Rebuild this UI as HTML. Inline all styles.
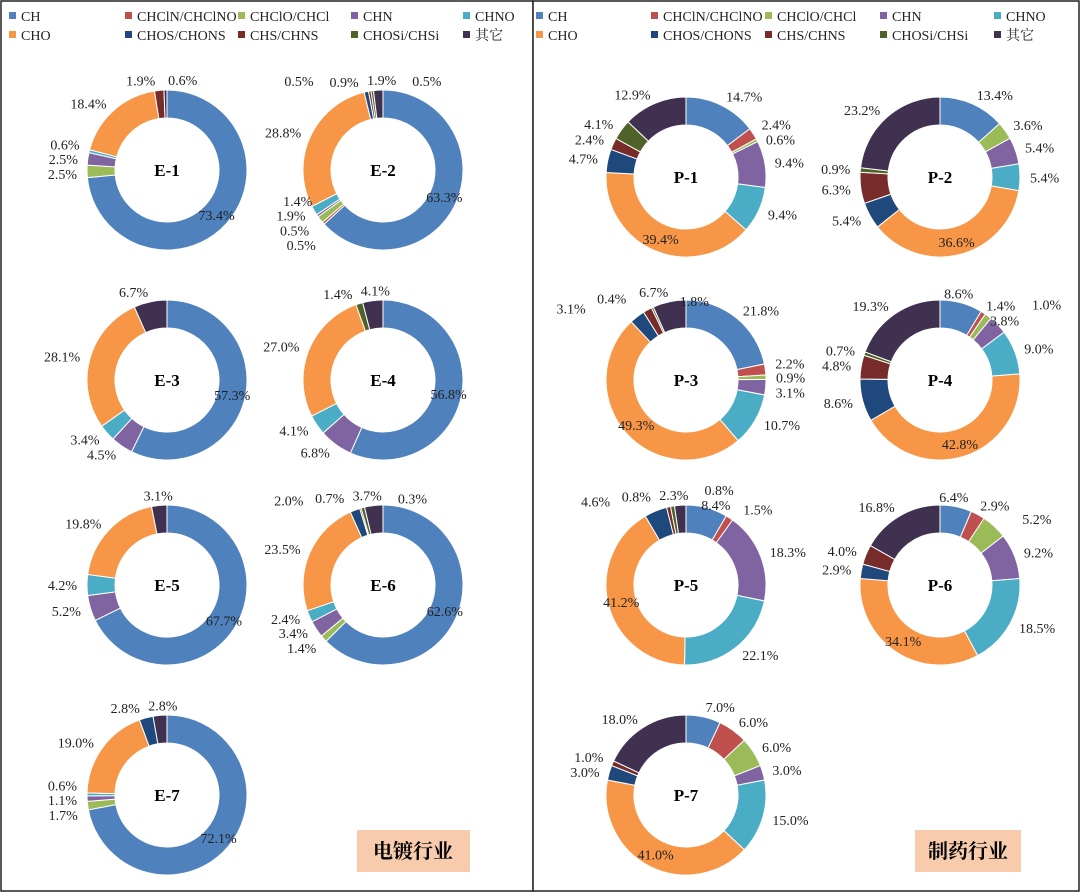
<!DOCTYPE html>
<html><head><meta charset="utf-8">
<style>
body{margin:0;background:#fff;}
svg{display:block;font-family:"Liberation Serif","Noto Serif CJK SC",serif;}
</style></head>
<body>
<svg id="chart" width="1080" height="893" viewBox="0 0 1080 893" xmlns="http://www.w3.org/2000/svg">
<rect x="1" y="1" width="532" height="890" fill="#fff" stroke="#222" stroke-width="1.5"/>
<rect x="533" y="1" width="546" height="890" fill="#fff" stroke="#222" stroke-width="1.5"/>
<g id="legends"></g>
<g id="donuts"></g>
<rect x="357" y="830" width="113" height="42" fill="#f8cbad"/>
<text x="413" y="858" text-anchor="middle" font-size="20" font-weight="bold" font-family="'Noto Serif CJK SC',serif">电镀行业</text>
<rect x="915" y="830" width="106" height="42" fill="#f8cbad"/>
<text x="968" y="858" text-anchor="middle" font-size="20" font-weight="bold" font-family="'Noto Serif CJK SC',serif">制药行业</text>
</svg>
<script>
const categories = ["CH","CHClN/CHClNO","CHClO/CHCl","CHN","CHNO","CHO","CHOS/CHONS","CHS/CHNS","CHOSi/CHSi","其它"];
const colors = ["#4f81bd","#c0504d","#9bbb59","#8064a2","#4bacc6","#f79646","#1f497d","#772c2a","#4f6228","#403151"];
const chartNames = ["E-1","E-2","E-3","E-4","E-5","E-6","E-7","P-1","P-2","P-3","P-4","P-5","P-6","P-7"];
const valsE1 = [73.4,0,2.5,2.5,0.6,18.4,0,1.9,0,0.6];
const valsE2 = [63.3,0.5,1.4,0.5,1.9,28.8,0.9,0.5,0.5,1.9];
const valsE3 = [57.3,0,0,4.5,3.4,28.1,0,0,0,6.7];
const valsE4 = [56.8,0,0,6.8,4.1,27.0,0,0,1.4,4.1];
const valsE5 = [67.7,0,0,5.2,4.2,19.8,0,0,0,3.1];
const valsE6 = [62.6,0,1.4,3.4,2.4,23.5,2.0,0.3,0.7,3.7];
const valsE7 = [72.1,0,1.7,1.1,0.6,19.0,2.8,0,0,2.8];
const valsP1 = [14.7,2.4,0.6,9.4,9.4,39.4,4.7,2.4,4.1,12.9];
const valsP2 = [13.4,0,3.6,5.4,5.4,36.6,5.4,6.3,0.9,23.2];
const valsP3 = [21.8,2.2,0.9,3.1,10.7,49.3,3.1,1.8,0.4,6.7];
const valsP4 = [8.6,1.0,1.4,3.8,9.0,42.8,8.6,4.8,0.7,19.3];
const valsP5 = [8.4,1.5,0,18.3,22.1,41.2,4.6,0.8,0.8,2.3];
const valsP6 = [6.4,2.9,5.2,9.2,18.5,34.1,2.9,4.0,0,16.8];
const valsP7 = [7.0,6.0,6.0,3.0,15.0,41.0,3.0,1.0,0,18.0];
const allVals = [valsE1,valsE2,valsE3,valsE4,valsE5,valsE6,valsE7,valsP1,valsP2,valsP3,valsP4,valsP5,valsP6,valsP7];

const NS="http://www.w3.org/2000/svg";
function mk(tag,attrs,parent){const e=document.createElementNS(NS,tag);for(const k in attrs)e.setAttribute(k,attrs[k]);parent.appendChild(e);return e;}

const lg=document.getElementById('legends');
const legCols=[[14,130,243,356,468],[541,656,770,885,999]];
legCols.forEach((cols,p)=>{
  categories.forEach((c,i)=>{
    const x=cols[i%5], y=i<5?16:35;
    const r=mk('rect',{x:x-5,y:y-4,width:7,height:7,fill:colors[i]},lg);
    
    
    const t=mk('text',{x:x+7,y:y+5,'font-size':14,fill:'#222'},lg);
    t.textContent=c;
    
    
  });
});

const centers=[[167,170],[383,170],[167,380],[383,380],[167,585],[383,585],[167,795],
               [686,177],[940,177],[686,380],[940,380],[686,585],[940,585],[686,795]];
const R=80, r0=52;
const dg=document.getElementById('donuts');
function pt(cx,cy,rad,a){return [cx+rad*Math.sin(a), cy-rad*Math.cos(a)];}
allVals.forEach((vals,ci)=>{
  const [cx,cy]=centers[ci];
  const g=mk('g',{},dg);
  
  
  const tot=vals.reduce((a,b)=>a+b,0);
  let maxI=vals.indexOf(Math.max(...vals));
  let a=0; const labels=[];
  vals.forEach((v,i)=>{
    if(v<=0)return;
    const a1=a+v/tot*2*Math.PI;
    const large=(a1-a)>Math.PI?1:0;
    const p1=pt(cx,cy,R,a),p2=pt(cx,cy,R,a1),p3=pt(cx,cy,r0,a1),p4=pt(cx,cy,r0,a);
    const path=mk('path',{d:`M${p1[0]},${p1[1]}A${R},${R} 0 ${large} 1 ${p2[0]},${p2[1]}L${p3[0]},${p3[1]}A${r0},${r0} 0 ${large} 0 ${p4[0]},${p4[1]}Z`,fill:colors[i],stroke:'#fff','stroke-width':1},g);
    
    
    const m=(a+a1)/2;
    if(i===maxI){
      const q=pt(cx,cy,67,m);
      labels.push({x:q[0],y:q[1],anchor:'middle',txt:v.toFixed(1)+'%',inside:true,m});
    } else {
      const q=pt(cx,cy,90,m);
      const s=Math.sin(m);
      labels.push({x:q[0],y:q[1],anchor:s>0.15?'start':(s<-0.15?'end':'middle'),txt:v.toFixed(1)+'%',side:s>=0?1:-1,inside:false,m});
    }
    a=a1;
  });
  // de-overlap
  function left(l){return l.anchor==='start'?l.x:(l.anchor==='end'?l.x-38:l.x-19);}
  const out=labels.filter(l=>!l.inside);
  for(let iter=0;iter<30;iter++){
    let moved=false;
    for(let p=0;p<out.length;p++)for(let q=p+1;q<out.length;q++){
      const A=out[p],B=out[q];
      const dx=left(B)-left(A), dy=B.y-A.y;
      if(Math.abs(dx)<40&&Math.abs(dy)<14){
        moved=true;
        const c=Math.cos((A.m+B.m)/2);
        if(c>0.75){ // near top: spread horizontally
          const sh=(40-Math.abs(dx))/2+1;
          if(A.x<=B.x){A.x-=sh;B.x+=sh;}else{A.x+=sh;B.x-=sh;}
        } else {
          const sh=(14-Math.abs(dy))/2+0.5;
          if(A.y<=B.y){A.y-=sh;B.y+=sh;}else{A.y+=sh;B.y-=sh;}
        }
      }
    }
    if(!moved)break;
  }
  labels.forEach(l=>{
    const t=mk('text',{x:l.x,y:l.y+5,'text-anchor':l.anchor,'font-size':14,fill:'#222'},g);
    t.textContent=l.txt;
    
    
  });
  const ct=mk('text',{x:cx,y:cy+6,'text-anchor':'middle','font-size':17,'font-weight':'bold',fill:'#000'},g);
  ct.textContent=chartNames[ci];
  
  
});
</script>
</body></html>
